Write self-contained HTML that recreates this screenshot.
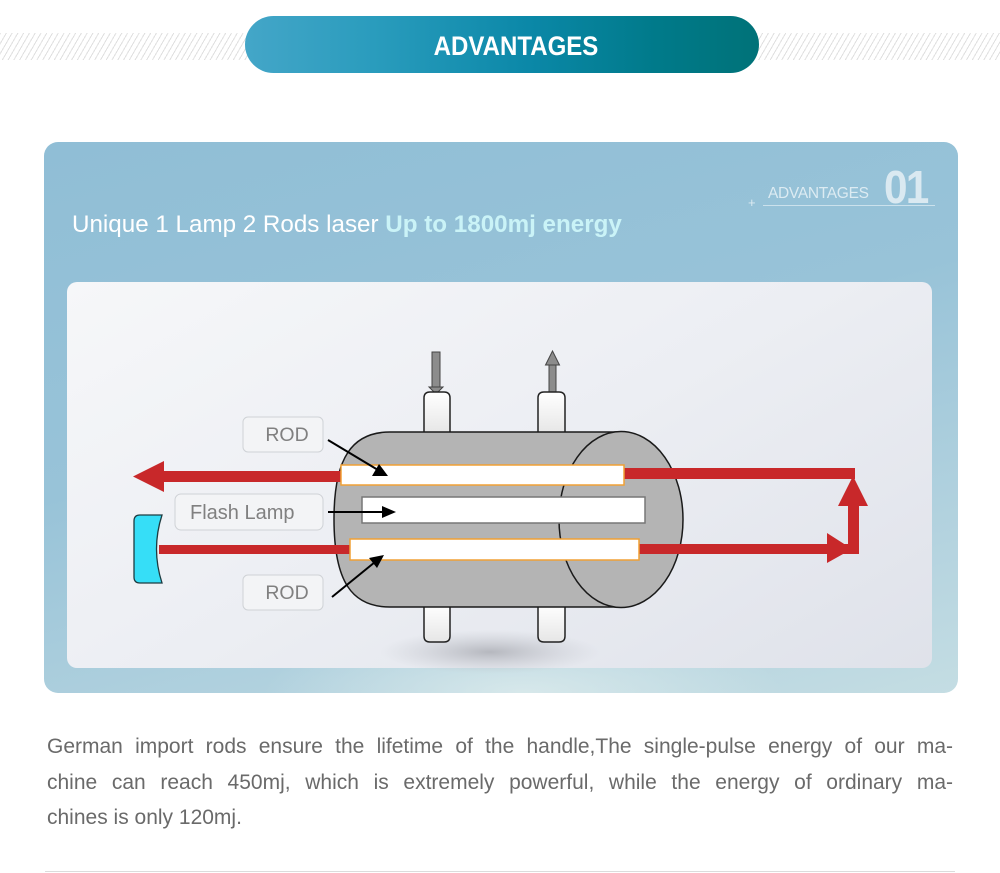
<!DOCTYPE html>
<html>
<head>
<meta charset="utf-8">
<style>
  html,body{margin:0;padding:0;}
  body{width:1000px;height:873px;position:relative;overflow:hidden;background:#fff;font-family:"Liberation Sans",Arial,sans-serif;}
  .stripes{position:absolute;left:0;top:33px;width:1000px;height:27px;
    background:repeating-linear-gradient(120deg,#dcdcdc 0px,#dcdcdc 1px,transparent 1px,transparent 5px);opacity:0.9;}
  .pill{position:absolute;left:245px;top:16px;width:514px;height:57px;border-radius:29px;
    background:linear-gradient(90deg,#44a6c8 0%,#2a9cbd 25%,#0b88a8 55%,#007a8a 80%,#007278 100%);}
  .pill span{position:absolute;left:28px;right:0;top:15px;text-align:center;color:#fff;font-weight:bold;font-size:27px;letter-spacing:0px;transform:scaleX(0.89);}
  .card{position:absolute;left:44px;top:142px;width:914px;height:551px;border-radius:14px;
    background:
      radial-gradient(ellipse 260px 70px at 480px 100%, rgba(225,238,238,0.75), rgba(225,238,238,0) 100%),
      linear-gradient(165deg,#90bed6 0%,#98c3d8 45%,#b4d3df 80%,#c4dde3 100%);}
  .title{position:absolute;left:72px;top:211px;font-size:24.2px;color:#fff;white-space:nowrap;}
  .title b{color:#caf3f7;}
  .adv{position:absolute;left:768px;top:185px;font-size:15.5px;color:#dcebf2;letter-spacing:-0.3px;}
  .num{position:absolute;left:884px;top:160px;font-size:46px;font-weight:bold;color:#dae9f1;letter-spacing:-2px;transform:scaleX(0.92);transform-origin:left top;}
  .uline{position:absolute;left:763px;top:205px;width:172px;height:1px;background:rgba(225,238,245,0.7);}
  .plus{position:absolute;left:748px;top:195px;font-size:13px;color:#dcebf2;}
  .panel{position:absolute;left:67px;top:282px;width:865px;height:386px;border-radius:10px;
    background:linear-gradient(150deg,#f6f7f9 0%,#eceef3 50%,#dfe2ea 100%);}
  .para{position:absolute;left:47px;top:729px;width:906px;font-size:21px;color:#6a6a6a;line-height:35.5px;}
  .para div{text-align:justify;text-align-last:justify;white-space:nowrap;}
  .para div.last{text-align-last:left;}
  .rule{position:absolute;left:45px;top:871px;width:910px;height:1px;background:#dcdcdc;}
  svg{position:absolute;left:0;top:0;}
</style>
</head>
<body>
<div class="stripes"></div>
<div class="pill"><span>ADVANTAGES</span></div>

<div class="card"></div>
<div class="title">Unique 1 Lamp 2 Rods laser <b>Up to 1800mj energy</b></div>
<div class="plus">+</div>
<div class="adv">ADVANTAGES</div>
<div class="num">01</div>
<div class="uline"></div>
<div class="panel"></div>

<svg width="1000" height="873" viewBox="0 0 1000 873">
  <defs>
    <radialGradient id="sh" cx="0.5" cy="0.5" r="0.5">
      <stop offset="0" stop-color="#a9abb2" stop-opacity="0.8"/>
      <stop offset="1" stop-color="#c0c3ca" stop-opacity="0"/>
    </radialGradient>
    <linearGradient id="post" x1="0" y1="0" x2="0" y2="1">
      <stop offset="0" stop-color="#ffffff"/>
      <stop offset="1" stop-color="#e6e6e6"/>
    </linearGradient>
  </defs>
  <!-- shadow -->
  <ellipse cx="490" cy="652" rx="110" ry="22" fill="url(#sh)"/>

  <!-- pipes -->
  <rect x="432" y="352" width="8" height="37" fill="#8c8c8c" stroke="#444" stroke-width="1"/>
  <polygon points="429,387 443,387 436,394" fill="#8c8c8c" stroke="#444" stroke-width="1"/>
  <rect x="549" y="363" width="7" height="30" fill="#8c8c8c" stroke="#444" stroke-width="1"/>
  <polygon points="545.5,365 559.5,365 552.5,351" fill="#8c8c8c" stroke="#444" stroke-width="1"/>

  <!-- posts -->
  <path d="M424 434 L424 398 Q424 392 430 392 L444 392 Q450 392 450 398 L450 434" fill="url(#post)" stroke="#222" stroke-width="1.5"/>
  <path d="M538 434 L538 398 Q538 392 544 392 L559 392 Q565 392 565 398 L565 434" fill="url(#post)" stroke="#222" stroke-width="1.5"/>
  <path d="M424 605 L424 636 Q424 642 430 642 L444 642 Q450 642 450 636 L450 605" fill="url(#post)" stroke="#222" stroke-width="1.5"/>
  <path d="M538 605 L538 636 Q538 642 544 642 L559 642 Q565 642 565 636 L565 605" fill="url(#post)" stroke="#222" stroke-width="1.5"/>

  <!-- cylinder body -->
  <path d="M621 432 L390 432 C352 432 334 458 334 519 C334 582 352 607 390 607 L621 607 Z" fill="#b4b4b4" stroke="#1a1a1a" stroke-width="1.5"/>
  <ellipse cx="621" cy="519.5" rx="62" ry="88" fill="#b4b4b4" stroke="#1a1a1a" stroke-width="1.5"/>

  <!-- red beams -->
  <g fill="#c8282a">
    <rect x="162" y="471" width="182" height="11"/>
    <polygon points="133,476.5 164,461 164,492"/>
    <rect x="622" y="468" width="233" height="11"/>
    <rect x="848" y="500" width="11" height="54"/>
    <polygon points="838,506 868,506 853,476"/>
    <rect x="637" y="544" width="222" height="10"/>
    <polygon points="827,533 827,563 852,549"/>
    <rect x="159" y="545" width="193" height="9"/>
  </g>

  <!-- rods & lamp -->
  <rect x="341" y="465" width="283" height="20" fill="#fff" stroke="#f0a035" stroke-width="1.5"/>
  <rect x="362" y="497" width="283" height="26" fill="#fff" stroke="#777" stroke-width="1.5"/>
  <rect x="350" y="539" width="289" height="21" fill="#fff" stroke="#f0a035" stroke-width="1.5"/>

  <!-- mirror -->
  <path d="M140 515 L162 515 Q151 549 162 583 L140 583 Q134 583 134 577 L134 521 Q134 515 140 515 Z" fill="#36def7" stroke="#1d3b40" stroke-width="1.3"/>

  <!-- labels -->
  <g font-family="Liberation Sans, Arial, sans-serif" fill="#808080">
    <rect x="243" y="417" width="80" height="35" rx="5" fill="#f3f4f6" stroke="#cfd2d6" stroke-width="1"/>
    <text x="287" y="441" font-size="19.5" text-anchor="middle" fill="#808080">ROD</text>
    <rect x="175" y="494" width="148" height="36" rx="6" fill="#f3f4f6" stroke="#cfd2d6" stroke-width="1"/>
    <text x="190" y="519" font-size="20" fill="#808080">Flash Lamp</text>
    <rect x="243" y="575" width="80" height="35" rx="5" fill="#f3f4f6" stroke="#cfd2d6" stroke-width="1"/>
    <text x="287" y="599" font-size="19.5" text-anchor="middle" fill="#808080">ROD</text>
  </g>

  <!-- black pointer arrows -->
  <g stroke="#000" stroke-width="2" fill="#000">
    <line x1="328" y1="440" x2="378" y2="470"/>
    <polygon points="388,476 372,476 379,464" stroke="none"/>
    <line x1="328" y1="512" x2="384" y2="512"/>
    <polygon points="396,512 382,506 382,518" stroke="none"/>
    <line x1="332" y1="597" x2="375" y2="562"/>
    <polygon points="384,555 377,568 369,558" stroke="none"/>
  </g>
</svg>

<div class="para">
  <div>German import rods ensure the lifetime of the handle,The single-pulse energy of our ma-</div>
  <div>chine can reach 450mj, which is extremely powerful, while the energy of ordinary ma-</div>
  <div class="last">chines is only 120mj.</div>
</div>
<div class="rule"></div>
</body>
</html>
